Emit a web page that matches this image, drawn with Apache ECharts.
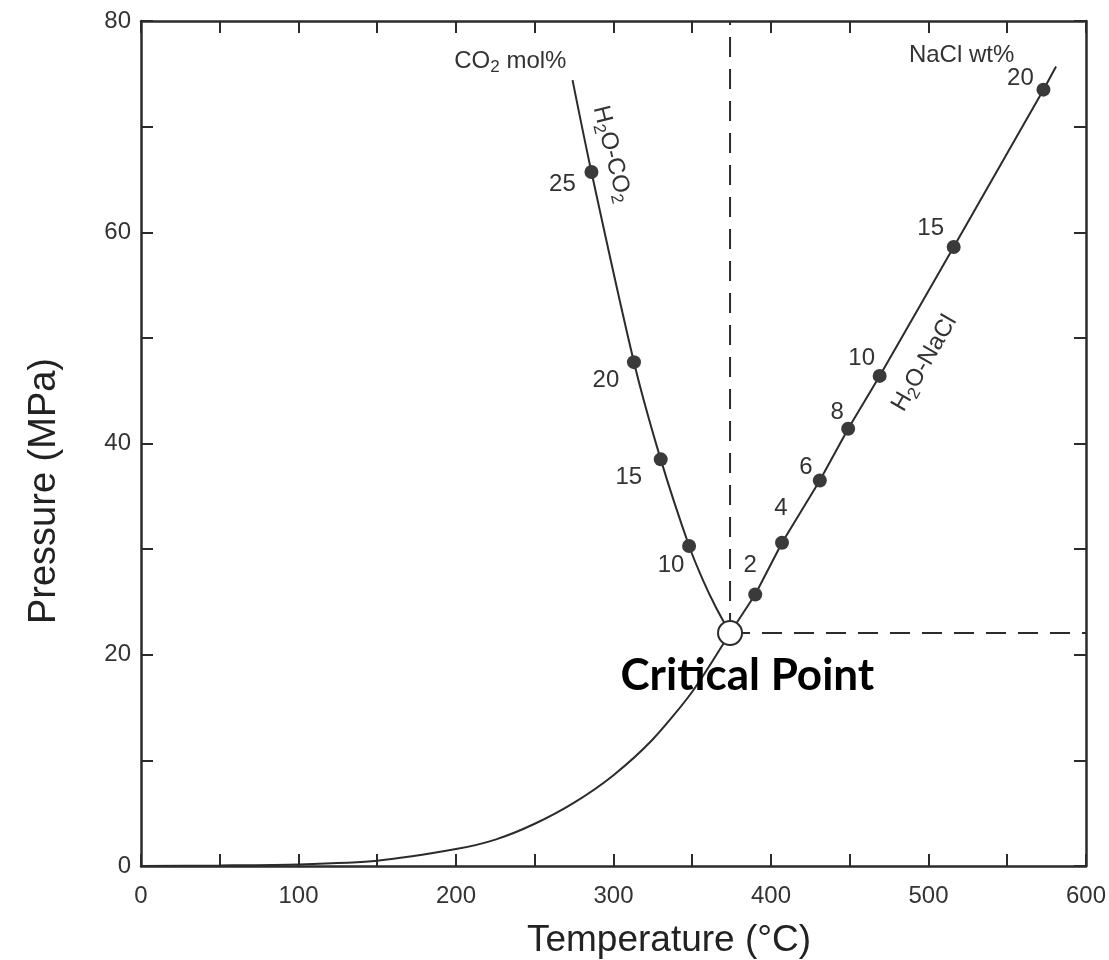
<!DOCTYPE html>
<html>
<head>
<meta charset="utf-8">
<title>H2O critical point</title>
<script src="https://cdn.jsdelivr.net/npm/echarts@6/dist/echarts.min.js"></script>
<style>
  html, body { margin: 0; padding: 0; background: #fff; }
  #chart { width: 1109px; height: 960px; }
</style>
</head>
<body>
<div id="chart"></div>
<script>
// water boiling curve (T in °C, P in MPa)
var boilT = [0, 50, 100, 150, 200, 225, 250, 275, 300, 325, 350, 374];
var boilP = [0, 0.05, 0.15, 0.5, 1.6, 2.5, 4.0, 6.0, 8.6, 12.0, 16.5, 22.06];

// critical point of pure water
var critT = 374;
var critP = 22.06;

// H2O-CO2 critical curve, top end down to the critical point
var co2LineT = [274, 286, 313, 330, 348, 357, 365, 374];
var co2LineP = [74.4, 65.7, 47.7, 38.5, 30.3, 27.0, 24.5, 22.06];
// marked compositions (CO2 mol%)
var co2Mol = [10, 15, 20, 25];
var co2DotT = [348, 330, 313, 286];
var co2DotP = [30.3, 38.5, 47.7, 65.7];

// H2O-NaCl critical curve
var naclLineT = [374, 390, 407, 431, 449, 469, 516, 573, 581];
var naclLineP = [22.06, 25.7, 30.6, 36.5, 41.4, 46.4, 58.6, 73.5, 75.7];
// marked compositions (NaCl wt%)
var naclWt = [2, 4, 6, 8, 10, 15, 20];
var naclDotT = [390, 407, 431, 449, 469, 516, 573];
var naclDotP = [25.7, 30.6, 36.5, 41.4, 46.4, 58.6, 73.5];

// axis ticks
var xMin = 0, xMax = 600, xTick = 50, xLabelStep = 100;
var yMin = 0, yMax = 80, yTick = 10, yLabelStep = 20;

var ink = '#2b2b2b';
var txt = '#333';
var sans = 'Liberation Sans, Arial, sans-serif';
var dotSize = 14;

function pairs(xs, ys) {
  return xs.map(function (x, i) { return [x, ys[i]]; });
}

// label offsets (px from the dot centre) so numbers sit beside their dots like the original
var co2LabelOffset = [[-18, 19], [-32, 18], [-28, 18], [-29, 12]];
var naclLabelOffset = [[-5, -29], [-1, -34], [-14, -13], [-11, -16], [-18, -18], [-23, -19], [-23, -11]];

function dotItems(ts, ps, names, offs) {
  return ts.map(function (t, i) {
    return {
      value: [t, ps[i]],
      name: String(names[i]),
      // label position [0,0] is the symbol's top-left corner, so shift by half the symbol
      label: { offset: [offs[i][0] + dotSize / 2, offs[i][1] + dotSize / 2] }
    };
  });
}

var chart = echarts.init(document.getElementById('chart'));

var axisLine = { show: true, onZero: false, lineStyle: { color: ink, width: 2.5 } };
var axisTick = { show: true, inside: true, length: 12, lineStyle: { color: ink, width: 2 } };

var dotLabel = {
  show: true,
  position: [0, 0],
  align: 'center',
  verticalAlign: 'middle',
  fontSize: 24,
  fontFamily: sans,
  color: txt,
  formatter: '{b}'
};

var rich = {
  n: { fontSize: 24, fontFamily: sans, color: txt },
  s: { fontSize: 17, fontFamily: sans, color: txt, padding: [13, 0, 0, 0] }
};

function note(t, p, text, rotate) {
  return {
    value: [t, p],
    label: {
      show: true,
      position: [0, 0],
      align: 'center',
      verticalAlign: 'middle',
      rotate: rotate || 0,
      formatter: text,
      rich: rich
    }
  };
}

var option = {
  backgroundColor: '#fff',
  animation: false,
  grid: { left: 141, right: 21, top: 21, bottom: 94 },
  xAxis: [
    {
      type: 'value', min: xMin, max: xMax, interval: xTick, position: 'bottom',
      axisLine: axisLine, axisTick: axisTick, splitLine: { show: false },
      axisLabel: {
        margin: 18, fontSize: 24, fontFamily: sans, color: txt,
        formatter: function (v) { return v % xLabelStep === 0 ? String(v) : ''; }
      }
    },
    {
      type: 'value', min: xMin, max: xMax, interval: xTick, position: 'top',
      axisLine: axisLine, axisTick: axisTick, splitLine: { show: false },
      axisLabel: { show: false }
    }
  ],
  yAxis: [
    {
      type: 'value', min: yMin, max: yMax, interval: yTick, position: 'left',
      axisLine: axisLine, axisTick: axisTick, splitLine: { show: false },
      axisLabel: {
        margin: 10, fontSize: 24, fontFamily: sans, color: txt,
        formatter: function (v) { return v % yLabelStep === 0 ? String(v) : ''; }
      }
    },
    {
      type: 'value', min: yMin, max: yMax, interval: yTick, position: 'right',
      axisLine: axisLine, axisTick: axisTick, splitLine: { show: false },
      axisLabel: { show: false }
    }
  ],
  graphic: [
    {
      type: 'text', x: 45, y: 491, rotation: Math.PI / 2,
      style: {
        text: 'Pressure (MPa)', fontSize: 38, fontFamily: sans, fill: '#222',
        textAlign: 'center', textVerticalAlign: 'middle', align: 'center', verticalAlign: 'middle'
      }
    },
    {
      type: 'text', x: 669, y: 941,
      style: {
        text: 'Temperature (°C)', fontSize: 37, fontFamily: sans, fill: '#222',
        textAlign: 'center', textVerticalAlign: 'middle', align: 'center', verticalAlign: 'middle'
      }
    }
  ],
  series: [
    {
      name: 'boiling', type: 'line', data: pairs(boilT, boilP),
      smooth: 0.25, showSymbol: false,
      lineStyle: { color: ink, width: 2 }, z: 3
    },
    {
      name: 'H2O-CO2', type: 'line', data: pairs(co2LineT, co2LineP),
      smooth: 0.3, showSymbol: false,
      lineStyle: { color: ink, width: 2 }, z: 3
    },
    {
      name: 'H2O-NaCl', type: 'line', data: pairs(naclLineT, naclLineP),
      showSymbol: false, lineStyle: { color: ink, width: 2 }, z: 3
    },
    {
      name: 'vertical', type: 'line', data: [[critT, critP], [critT, yMax]],
      showSymbol: false, lineStyle: { color: ink, width: 2, type: [20, 12] }, z: 2
    },
    {
      name: 'horizontal', type: 'line', data: [[critT, critP], [xMax, critP]],
      showSymbol: false, lineStyle: { color: ink, width: 2, type: [20, 12] }, z: 2
    },
    {
      name: 'co2 dots', type: 'scatter', symbolSize: dotSize,
      itemStyle: { color: '#3a3a3a', opacity: 1 }, label: dotLabel,
      data: dotItems(co2DotT, co2DotP, co2Mol, co2LabelOffset), z: 5
    },
    {
      name: 'nacl dots', type: 'scatter', symbolSize: dotSize,
      itemStyle: { color: '#3a3a3a', opacity: 1 }, label: dotLabel,
      data: dotItems(naclDotT, naclDotP, naclWt, naclLabelOffset), z: 5
    },
    {
      name: 'critical', type: 'scatter', symbolSize: 24,
      itemStyle: { color: '#fff', borderColor: ink, borderWidth: 2, opacity: 1 },
      data: [[critT, critP]], z: 6
    },
    {
      name: 'notes', type: 'scatter', symbolSize: 0, silent: true, z: 7,
      itemStyle: { opacity: 1 },
      data: [
        note(234.5, 76.2, '{n|CO}{s|2}{n| mol%}'),
        note(521, 76.7, '{n|NaCl wt%}'),
        note(299, 67.4, '{n|H}{s|2}{n|O-CO}{s|2}', -76),
        note(497.5, 47.6, '{n|H}{s|2}{n|O-NaCl}', 60)
      ]
    },
    {
      name: 'crit note', type: 'scatter', symbolSize: 0, silent: true, z: 8,
      itemStyle: { opacity: 1 },
      data: [{
        value: [385, 18.0],
        label: {
          show: true, position: [0, 0], align: 'center', verticalAlign: 'middle',
          formatter: 'Critical Point', fontSize: 44, fontWeight: 'bold',
          fontFamily: 'Lato, Open Sans, sans-serif', color: '#000'
        }
      }]
    }
  ]
};

chart.setOption(option);
</script>
</body>
</html>
